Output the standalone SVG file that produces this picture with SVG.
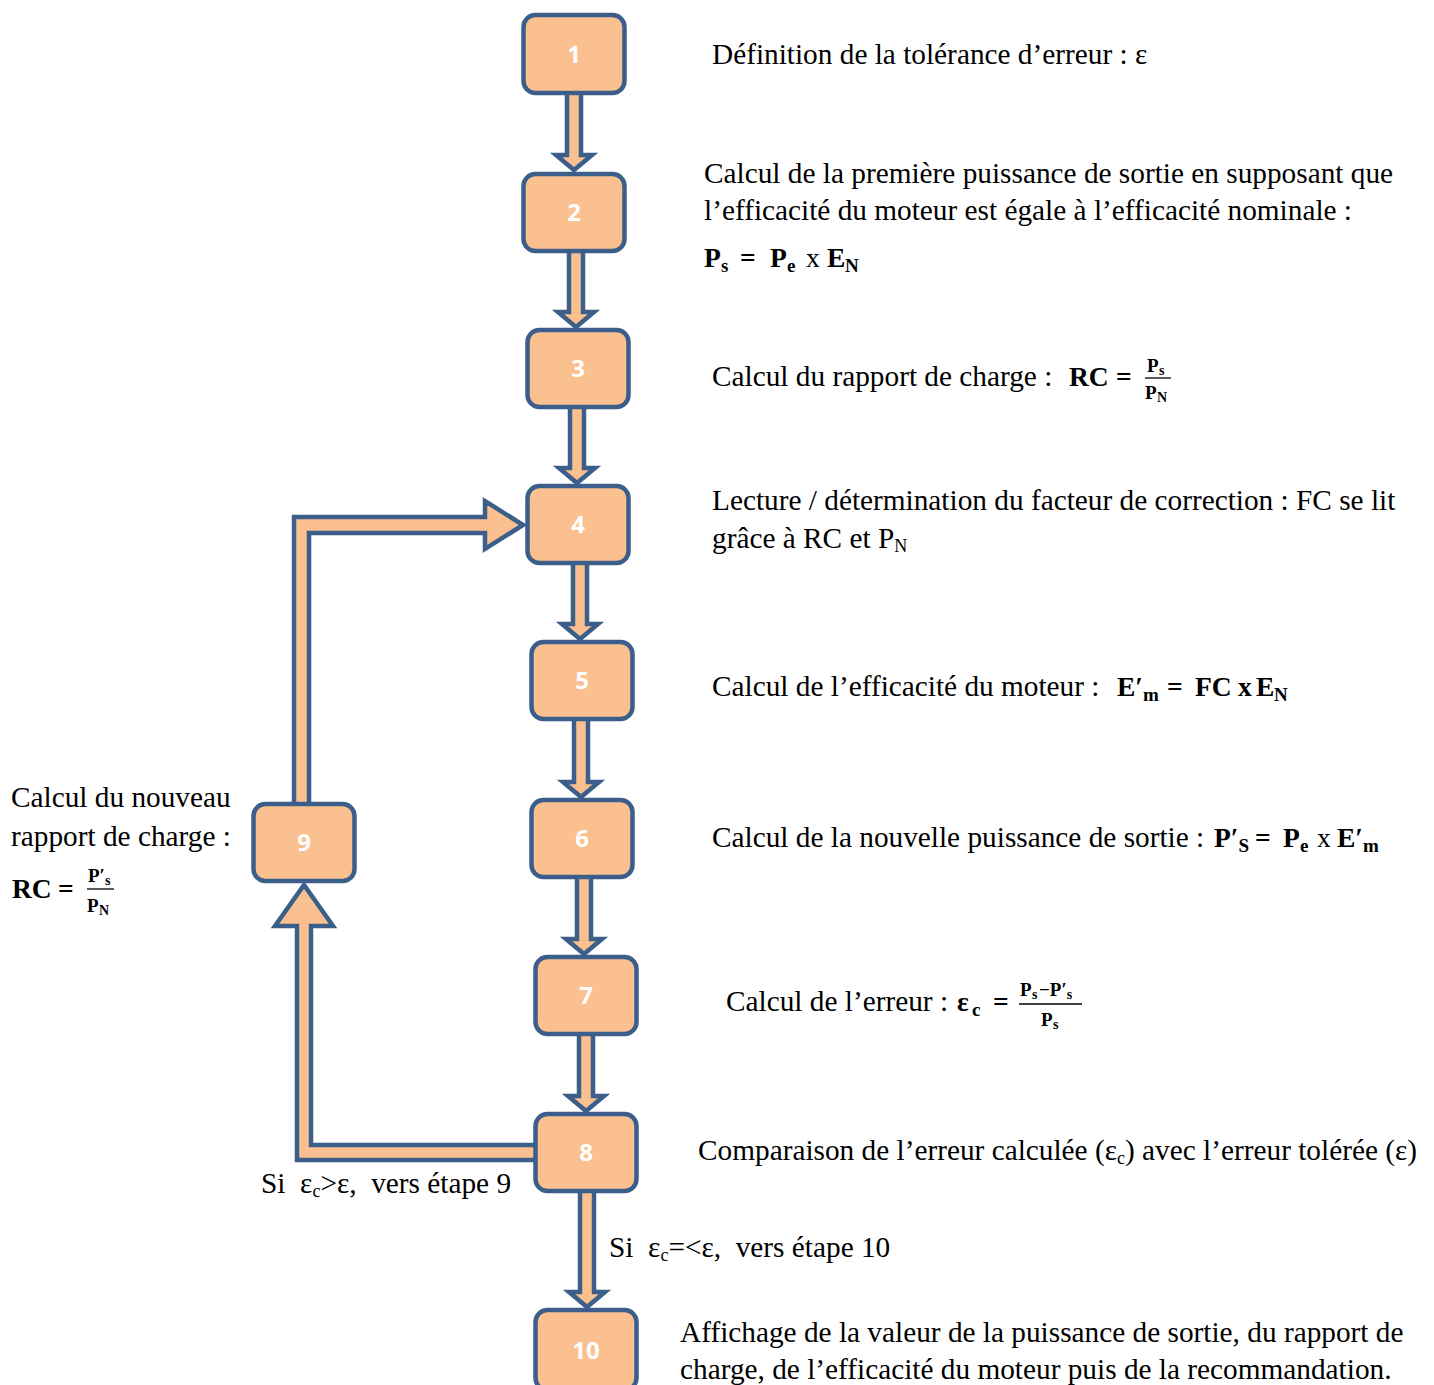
<svg xmlns="http://www.w3.org/2000/svg" width="1434" height="1385" viewBox="0 0 1434 1385">
<style>
.node rect{fill:#FAC090;stroke:#3C5E8B;stroke-width:4.5}
.node text{font-family:"Open Sans","Liberation Sans",sans-serif;font-weight:bold;font-size:24px;fill:#fff;text-anchor:middle}
.arrow{fill:#FAC090;stroke:#3C5E8B;stroke-width:4.5;stroke-linejoin:miter}
.t{font-family:"Liberation Serif",serif;font-size:29.3px;fill:#000}
.m{font-family:"Liberation Serif",serif;font-weight:bold;font-size:27.5px;fill:#000}
.ms{font-size:19px}
.f{font-family:"Liberation Serif",serif;font-weight:bold;font-size:19px;fill:#000}
.fs{font-size:14px}
.bar{stroke:#000;stroke-width:1.3}
</style>
<rect width="1434" height="1385" fill="#fff"/>
<g id="connectors">
<path class="arrow" d="M567,92 L581,92 L581,155 L592,155 L574,170 L556,155 L567,155 Z"/>
<path class="arrow" d="M569,250 L583,250 L583,312 L594,312 L576,327 L558,312 L569,312 Z"/>
<path class="arrow" d="M570,406 L584,406 L584,468 L595,468 L577,483 L559,468 L570,468 Z"/>
<path class="arrow" d="M573,562 L587,562 L587,624 L598,624 L580,639 L562,624 L573,624 Z"/>
<path class="arrow" d="M574,718 L588,718 L588,782 L599,782 L581,797 L563,782 L574,782 Z"/>
<path class="arrow" d="M577,876 L591,876 L591,939 L602,939 L584,954 L566,939 L577,939 Z"/>
<path class="arrow" d="M579,1033 L593,1033 L593,1096 L604,1096 L586,1111 L568,1096 L579,1096 Z"/>
<path class="arrow" d="M580,1190 L594,1190 L594,1292 L605,1292 L587,1307 L569,1292 L580,1292 Z"/>
<path class="arrow" d="M538,1145 L311,1145 L311,926 L333,926 L304,885 L275,926 L297,926 L297,1160 L538,1160"/>
<path class="arrow" d="M294,805 L294,517 L485,517 L485,501 L523,525 L485,549 L485,533 L309,533 L309,805"/>
</g>
<g id="node1" class="node"><rect x="523.5" y="15" width="101" height="78" rx="12"/><text x="574" y="63">1</text></g>
<g id="node2" class="node"><rect x="523.5" y="174" width="101" height="77" rx="12"/><text x="574" y="221">2</text></g>
<g id="node3" class="node"><rect x="527.5" y="330" width="101" height="77" rx="12"/><text x="578" y="377">3</text></g>
<g id="node4" class="node"><rect x="527.5" y="486" width="101" height="77" rx="12"/><text x="578" y="533">4</text></g>
<g id="node5" class="node"><rect x="531.5" y="642" width="101" height="77" rx="12"/><text x="582" y="689">5</text></g>
<g id="node6" class="node"><rect x="531.5" y="800" width="101" height="77" rx="12"/><text x="582" y="847">6</text></g>
<g id="node7" class="node"><rect x="535.5" y="957" width="101" height="77" rx="12"/><text x="586" y="1004">7</text></g>
<g id="node8" class="node"><rect x="535.5" y="1114" width="101" height="77" rx="12"/><text x="586" y="1161">8</text></g>
<g id="node9" class="node"><rect x="253.5" y="804" width="101" height="77" rx="12"/><text x="304" y="851">9</text></g>
<g id="node10" class="node"><rect x="535.5" y="1310" width="101" height="80" rx="12"/><text x="586" y="1359">10</text></g>

<g id="labels">
<text class="t" x="712" y="64">Définition de la tolérance d’erreur : ε</text>

<text class="t" x="704" y="183">Calcul de la première puissance de sortie en supposant que</text>
<text class="t" x="704" y="220">l’efficacité du moteur est égale à l’efficacité nominale :</text>
<text class="m" y="267"><tspan x="704">P</tspan><tspan class="ms" x="721" dy="5">s</tspan><tspan x="740" dy="-5">=</tspan><tspan x="770">P</tspan><tspan class="ms" x="787" dy="5">e</tspan><tspan x="806" dy="-5" font-weight="normal">x</tspan><tspan x="827">E</tspan><tspan class="ms" x="845" dy="5">N</tspan></text>

<text class="t" x="712" y="386">Calcul du rapport de charge :</text>
<text class="m" y="386"><tspan x="1069">RC</tspan><tspan x="1116">=</tspan></text>
<text class="f" y="372"><tspan x="1147">P</tspan><tspan class="fs" x="1159" dy="3">s</tspan></text>
<line class="bar" x1="1145" y1="378" x2="1171" y2="378"/>
<text class="f" y="399"><tspan x="1145">P</tspan><tspan class="fs" x="1157" dy="3">N</tspan></text>

<text class="t" x="712" y="510">Lecture / détermination du facteur de correction : FC se lit</text>
<text class="t" x="712" y="548">grâce à RC et P<tspan font-size="18px" dy="4">N</tspan></text>

<text class="t" x="712" y="696">Calcul de l’efficacité du moteur :</text>
<text class="m" y="696"><tspan x="1117">E′</tspan><tspan class="ms" dy="5">m</tspan><tspan x="1167" dy="-5">=</tspan><tspan x="1195">FC</tspan><tspan x="1238">x</tspan><tspan x="1256">E</tspan><tspan class="ms" x="1274" dy="5">N</tspan></text>

<text class="t" x="712" y="847">Calcul de la nouvelle puissance de sortie :</text>
<text class="m" y="847"><tspan x="1214">P′</tspan><tspan class="ms" dy="5">S</tspan><tspan x="1255" dy="-5">=</tspan><tspan x="1283">P</tspan><tspan class="ms" x="1300" dy="5">e</tspan><tspan x="1317" dy="-5" font-weight="normal">x</tspan><tspan x="1337">E′</tspan><tspan class="ms" dy="5">m</tspan></text>

<text class="t" x="726" y="1011">Calcul de l’erreur :</text>
<text class="m" y="1011"><tspan x="957">ε</tspan><tspan class="ms" x="972" dy="5">c</tspan><tspan x="993" dy="-5">=</tspan></text>
<text class="f" y="996"><tspan x="1020">P</tspan><tspan class="fs" x="1032" dy="3">s</tspan><tspan x="1039" dy="-3">−P′</tspan><tspan class="fs" dy="3">s</tspan></text>
<line class="bar" x1="1019" y1="1004" x2="1082" y2="1004"/>
<text class="f" y="1026"><tspan x="1041">P</tspan><tspan class="fs" x="1053" dy="3">s</tspan></text>

<text class="t" x="698" y="1160">Comparaison de l’erreur calculée (ε<tspan font-size="18px" dy="4">c</tspan><tspan dy="-4">) avec l’erreur tolérée (ε)</tspan></text>

<text class="t" x="261" y="1193" xml:space="preserve">Si  ε<tspan font-size="18px" dy="4">c</tspan><tspan dy="-4">&gt;ε,  vers étape 9</tspan></text>
<text class="t" x="609" y="1257" xml:space="preserve">Si  ε<tspan font-size="18px" dy="4">c</tspan><tspan dy="-4">=&lt;ε,  vers étape 10</tspan></text>

<text class="t" x="680" y="1342">Affichage de la valeur de la puissance de sortie, du rapport de</text>
<text class="t" x="680" y="1379">charge, de l’efficacité du moteur puis de la recommandation.</text>

<text class="t" x="11" y="807">Calcul du nouveau</text>
<text class="t" x="11" y="846">rapport de charge :</text>
<text class="m" y="898"><tspan x="12">RC</tspan><tspan x="58">=</tspan></text>
<text class="f" y="882"><tspan x="88">P′</tspan><tspan class="fs" dy="3">s</tspan></text>
<line class="bar" x1="87" y1="889" x2="114" y2="889"/>
<text class="f" y="912"><tspan x="87">P</tspan><tspan class="fs" x="99" dy="3">N</tspan></text>
</g>
</svg>
